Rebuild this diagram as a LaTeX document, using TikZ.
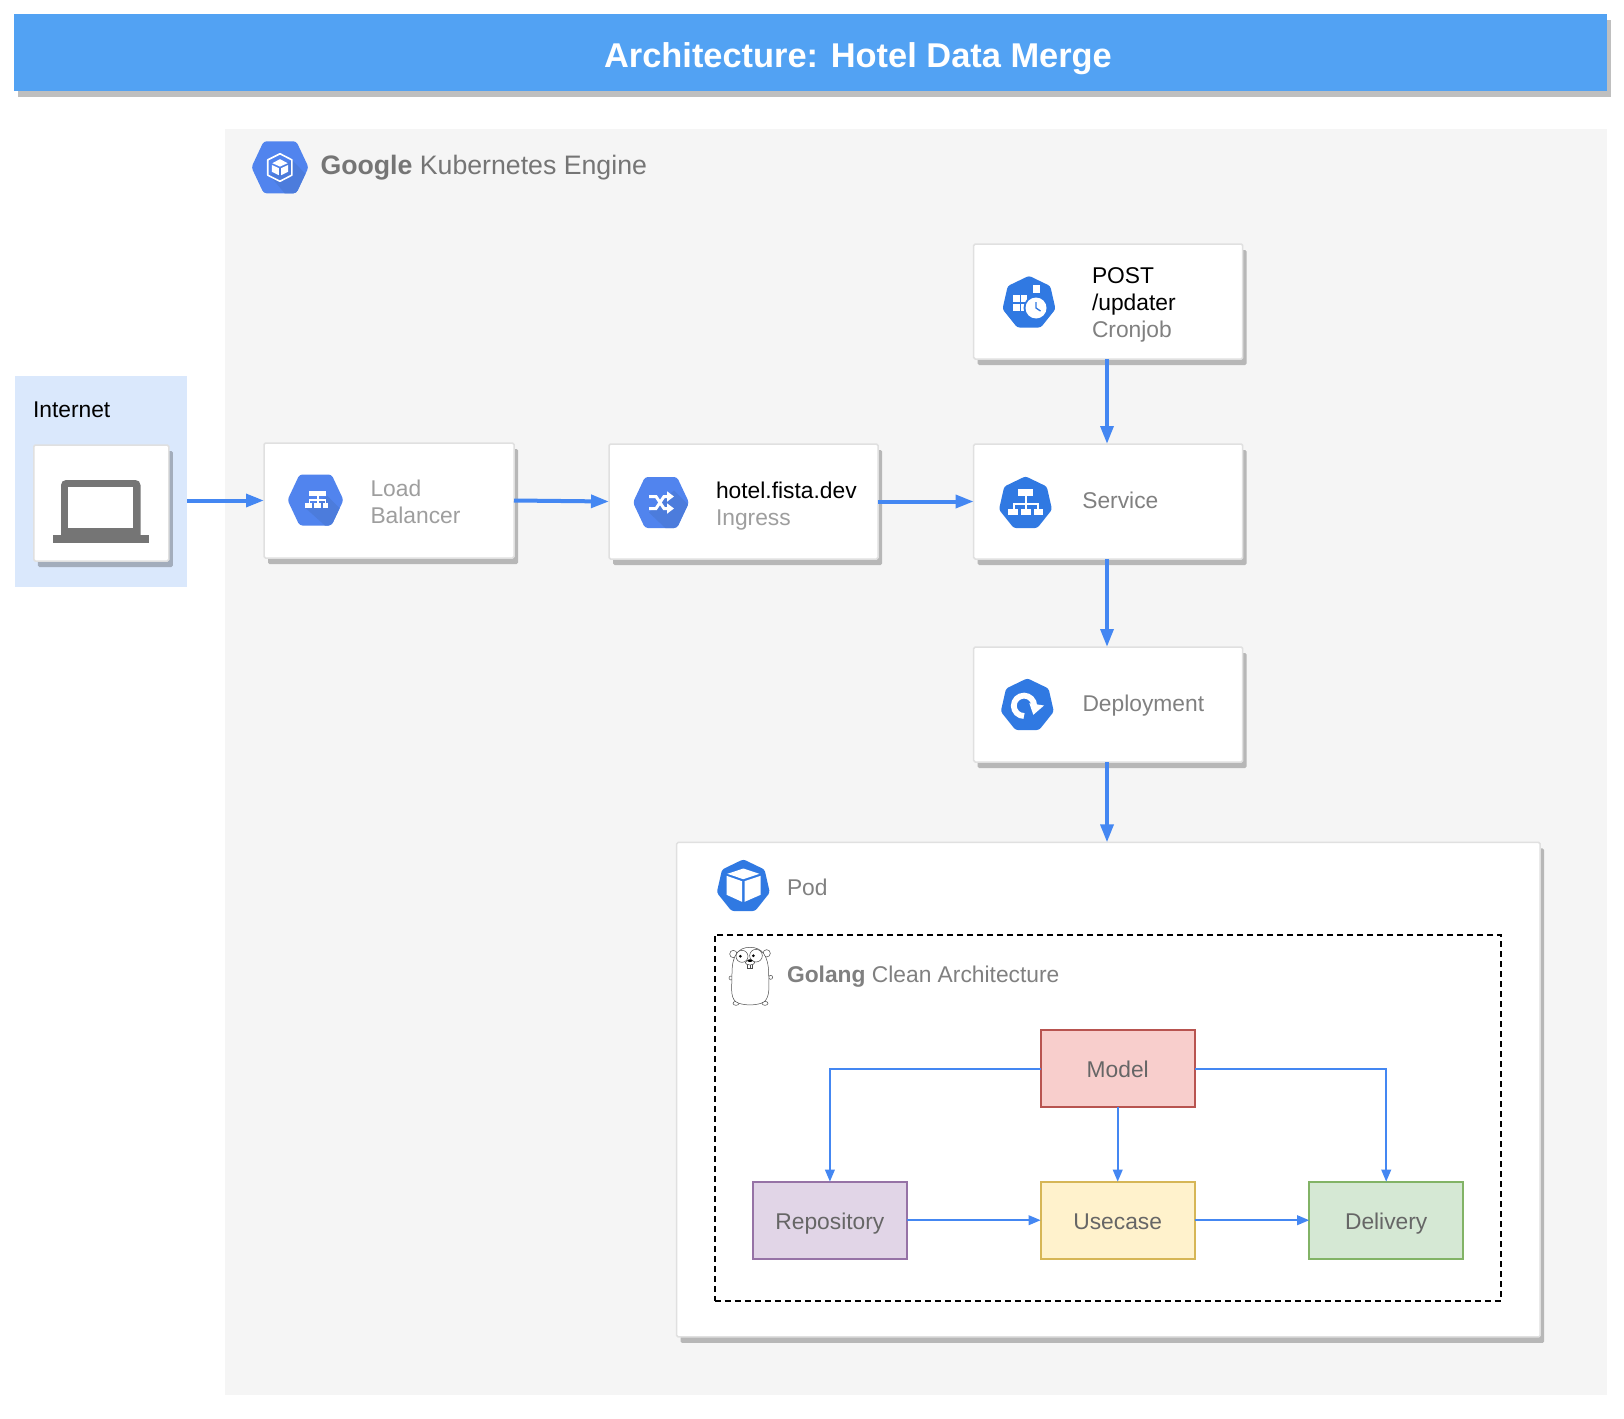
\documentclass[tikz,border=0pt]{standalone}
\usepackage{fontspec}
\setmainfont{Liberation Sans}
\usetikzlibrary{arrows.meta,shadows,calc}
\definecolor{hdr}{HTML}{52A2F3}
\definecolor{gkebg}{HTML}{F5F5F5}
\definecolor{netbg}{HTML}{DAE8FC}
\definecolor{cardline}{HTML}{E0E0E0}
\definecolor{arrowblue}{HTML}{4487F2}
\definecolor{gcp}{HTML}{5184EE}
\definecolor{gcpdark}{HTML}{4C7CDC}
\definecolor{kube}{HTML}{3079E2}
\definecolor{lbltxt}{HTML}{9E9E9E}
\definecolor{midtxt}{HTML}{808080}
\definecolor{gketxt}{HTML}{757575}
\definecolor{boxtxt}{HTML}{666666}
\definecolor{redfill}{HTML}{F8CECC}
\definecolor{redline}{HTML}{B85450}
\definecolor{purfill}{HTML}{E1D5E7}
\definecolor{purline}{HTML}{9673A6}
\definecolor{yelfill}{HTML}{FFF2CC}
\definecolor{yelline}{HTML}{D6B656}
\definecolor{grnfill}{HTML}{D5E8D4}
\definecolor{grnline}{HTML}{82B366}
\tikzset{
  x=1pt,y=-1pt,
  sh/.style={general shadow={fill=black,fill opacity=.25,draw=none,shadow xshift=4pt,shadow yshift=-6pt}},
  card/.style={sh,draw=cardline,fill=white,line width=1.5pt,rounded corners=1.5pt,inner sep=0,outer sep=0},
  lbl/.style={font=\fontsize{22.8}{27}\selectfont,inner sep=0,outer sep=0,align=left,anchor=west},
  big/.style={draw=arrowblue,line width=4pt,-{Triangle[length=18pt,width=12.7pt,fill=arrowblue]}},
  small/.style={draw=arrowblue,line width=2pt,-{Triangle[length=12pt,width=9.5pt,fill=arrowblue]}},
  cbox/.style={line width=2pt,inner sep=0,outer sep=0,minimum width=154pt,minimum height=77pt,text=boxtxt,text height=18.4pt,text depth=0pt,font=\fontsize{22.8}{27}\selectfont},
}
\newcommand{\hexpath}{(-28pt,0pt)--(-16pt,25.5pt)--(16pt,25.5pt)--(28pt,0pt)--(16pt,-25.5pt)--(-16pt,-25.5pt)--cycle}
\newcommand{\hexbg}{\fill[gcp,rounded corners=3pt] \hexpath;}
\newcommand{\heptabg}{\fill[kube,rounded corners=2.5pt] (90:27.2pt)--(141.43:27.2pt)--(192.86:27.2pt)--(244.29:27.2pt)--(295.71:27.2pt)--(347.14:27.2pt)--(38.57:27.2pt)--cycle;}
\newcommand{\hexshade}[1]{\begin{scope}\clip[rounded corners=3pt] \hexpath;\fill[gcpdark] #1;\end{scope}}
\begin{document}
\begin{tikzpicture}
\useasboundingbox (0,0) rectangle (1624,1418);
\fill[white] (0,0) rectangle (1624,1418);
% header
\node[sh,fill=hdr,inner sep=0,outer sep=0,minimum width=1593pt,minimum height=77pt] (title) at (810.5,52.5) {};
\node[inner sep=0,text=white,font=\fontsize{34.4}{40}\selectfont\bfseries] (titletext) at (858,59) {Architecture: Hotel Data Merge};
% GKE panel
\node[fill=gkebg,inner sep=0,outer sep=0,minimum width=1382pt,minimum height=1266pt] (gke) at (916,762) {};
\begin{scope}[shift={(280,167.3)},scale=1.02]
\hexbg
\hexshade{(11.6,-7.3)--(45,27)--(10,32)--(-10,8)--cycle}
\draw[white,line width=1.6pt,line join=round] (0,-13.3)--(11.6,-7.3)--(11.6,7.7)--(0,13.7)--(-12,7.7)--(-12,-7.3)--cycle;
\fill[white] (0,-8)--(7.5,-4)--(0,-.7)--(-7.5,-4)--cycle;
\fill[white] (-8,-2.3)--(-1.2,.8)--(-1.2,7.7)--(-8,4.3)--cycle;
\fill[white] (8,-2.3)--(1.2,.8)--(1.2,7.7)--(8,4.3)--cycle;
\end{scope}
\node[lbl,font=\fontsize{26.7}{31}\selectfont,text=gketxt] (gketext) at (320.5,168) {\textbf{Google} Kubernetes Engine};
% internet
\node[fill=netbg,inner sep=0,outer sep=0,minimum width=172pt,minimum height=211pt] (inet) at (101,481.5) {};
\node[lbl,text=black] (inettext) at (33,410) {Internet};
\node[card,minimum width=135pt,minimum height=116pt] (laptop) at (101.3,503) {};
\fill[gketxt,rounded corners=5pt] (61,480) rectangle (140.5,540);
\fill[white] (68,487) rectangle (133,528);
\fill[gketxt] (53,535) rectangle (149,543);
% cards
\node[card,minimum width=250pt,minimum height=115pt] (lb) at (389,500.5) {};
\node[card,minimum width=269pt,minimum height=115pt] (ing) at (743.5,501.5) {};
\node[card,minimum width=269pt,minimum height=115pt] (cron) at (1108.2,301.5) {};
\node[card,minimum width=269pt,minimum height=115pt] (svc) at (1108.2,501.5) {};
\node[card,minimum width=269pt,minimum height=115pt] (dep) at (1108.2,704.5) {};
\node[card,minimum width=863.5pt,minimum height=494.5pt] (pod) at (1108.4,1089.7) {};
% LB icon
\begin{scope}[shift={(315.5,500)}]
\hexbg
\hexshade{(12,-4)--(60,44)--(30,44)--(-10,8)--cycle}
\fill[white] (-6.5,-9.5) rectangle (10.5,-4.5);
\fill[white] (1,-4.5) rectangle (3,-1);
\fill[white] (-7,-1) rectangle (10.5,.5);
\fill[white] (-7,.5) rectangle (-5.5,3);
\fill[white] (1,.5) rectangle (3,3);
\fill[white] (9,.5) rectangle (10.5,3);
\fill[white] (-10.5,3) rectangle (-3.5,8);
\fill[white] (-1.5,3) rectangle (5,8);
\fill[white] (7,3) rectangle (12.5,8);
\end{scope}
\node[lbl,text=lbltxt] (lbtext) at (370.5,501.5) {Load\\Balancer};
% ingress icon
\begin{scope}[shift={(661,502.5)}]
\hexbg
\hexshade{(13,-12)--(60,35)--(30,50)--(-12,10)--cycle}
\draw[white,line width=3pt,-{Triangle[length=7pt,width=10pt,fill=white]}] (-12,-6)--(-5,-6)--(3,6)--(13,6);
\draw[white,line width=3pt,-{Triangle[length=7pt,width=10pt,fill=white]}] (-12,6)--(-5,6)--(3,-6)--(13,-6);
\end{scope}
\node[lbl,text=lbltxt] (ingtext) at (716,506) {\textcolor{black}{hotel.fista.dev}\\Ingress};
% cron icon
\begin{scope}[shift={(1029,303)}]
\heptabg
\fill[white] (-16.5,-8) rectangle (-9.5,-1);
\fill[white] (-8,-8) rectangle (-2,-1);
\fill[white] (-16.5,1) rectangle (-9.5,8);
\fill[white] (-8,1) rectangle (-2,8);
\fill[white] (3.5,-18) rectangle (11,-10.5);
\fill[kube] (7,5) circle[radius=12.5];
\fill[white] (7,5) circle[radius=10.5];
\draw[kube,line width=1.3pt] (7,-1)--(7,5)--(11.5,8);
\end{scope}
\node[lbl,text=midtxt] (crontext) at (1092,305) {\textcolor{black}{POST}\\\textcolor{black}{/updater}\\Cronjob};
% service icon
\begin{scope}[shift={(1025.5,503.5)}]
\heptabg
\fill[white] (-7.5,-14.5) rectangle (7.5,-8);
\fill[white] (-1,-8) rectangle (1,5);
\fill[white] (-13,-1) rectangle (13,1);
\fill[white] (-13,1) rectangle (-11,5);
\fill[white] (11,1) rectangle (13,5);
\fill[white] (-17.5,5) rectangle (-8,11.5);
\fill[white] (-5,5) rectangle (5,11.5);
\fill[white] (8,5) rectangle (17.5,11.5);
\end{scope}
\node[lbl,text=midtxt] (svctext) at (1082.3,500) {Service};
% deployment icon
\begin{scope}[shift={(1027.3,705.5)}]
\heptabg
\draw[white,line width=5.8pt] (-3.3,10.5) arc[start angle=270,end angle=0,radius=10.2pt];
\fill[white] (2,-2.3)--(16.7,0)--(6,9.3)--cycle;
\end{scope}
\node[lbl,text=midtxt] (deptext) at (1082.5,706) {Deployment};
% pod
\begin{scope}[shift={(743.3,886.5)}]
\heptabg
\fill[white] (0,-18)--(16,-12.7)--(0,-7.3)--(-16,-12.7)--cycle;
\fill[white] (-16.7,-10.7)--(-1.3,-5.3)--(-1.3,15.3)--(-16.7,8.3)--cycle;
\fill[white] (1.3,-5.3)--(17.3,-10.7)--(17.3,8.3)--(1.3,15.3)--cycle;
\end{scope}
\node[lbl,text=midtxt] (podtext) at (787,887) {Pod};
% dashed
\node[draw=black,line width=2pt,dash pattern=on 6pt off 4pt,inner sep=0,outer sep=0,minimum width=786.3pt,minimum height=366pt] (golang) at (1107.85,1117.7) {};
% gopher
\begin{scope}[shift={(670,840)},x=0.3333pt,y=-0.3333pt,draw=black!70,line width=.5pt]
\filldraw[fill=white] (190,342) circle[radius=11];
\filldraw[fill=white] (290,340) circle[radius=11];
\filldraw[fill=white] (183,414) ellipse[x radius=6,y radius=6];
\filldraw[fill=white] (302,412) ellipse[x radius=6,y radius=6];
\filldraw[fill=white] (198,490) ellipse[x radius=9,y radius=6];
\filldraw[fill=white] (285,490) ellipse[x radius=9,y radius=6];
\filldraw[fill=white] (186,400) .. controls (186,345) and (205,322) .. (240,322) .. controls (275,322) and (295,345) .. (296,400) .. controls (297,440) and (300,470) .. (283,485) .. controls (265,498) and (215,498) .. (197,485) .. controls (180,470) and (186,440) .. (186,400) -- cycle;
\filldraw[fill=white] (216,349) circle[radius=18];
\filldraw[fill=white] (258,347) circle[radius=19];
\fill[black] (211,349) circle[radius=4.5];
\fill[black] (250,347) circle[radius=4.5];
\filldraw[fill=white] (232,372) rectangle (240,385);
\filldraw[fill=white] (240,372) rectangle (248,385);
\filldraw[fill=white] (240,368) ellipse[x radius=14,y radius=7];
\fill[black] (240,362) ellipse[x radius=8,y radius=4];
\end{scope}
\node[lbl,text=midtxt] (gotext) at (787,977) {\textbf{Golang} Clean Architecture};
% boxes
\node[cbox,draw=redline,fill=redfill] (model) at (1117.7,1068.5) {Model};
\node[cbox,draw=purline,fill=purfill] (repo) at (829.9,1220.2) {Repository};
\node[cbox,draw=yelline,fill=yelfill] (use) at (1117.7,1220.2) {Usecase};
\node[cbox,draw=grnline,fill=grnfill] (del) at (1386.2,1220.2) {Delivery};
% connectors
\draw[big] (inet.east |- lb.west) -- (lb.west);
\draw[big] (lb.east) -- (ing.west);
\draw[big] (ing.east) -- (svc.west);
\draw[big] ([xshift=-1.2pt]cron.south) -- ([xshift=-1.2pt]svc.north);
\draw[big] ([xshift=-1.2pt]svc.south) -- ([xshift=-1.2pt]dep.north);
\draw[big] ([xshift=-1.2pt]dep.south) -- ([xshift=-1.2pt]dep.south |- pod.north);
\draw[small] (model.west) -| (repo.north);
\draw[small] (model.east) -| (del.north);
\draw[small] (model.south) -- (use.north);
\draw[small] (repo.east) -- (use.west);
\draw[small] (use.east) -- (del.west);
\end{tikzpicture}
\end{document}
